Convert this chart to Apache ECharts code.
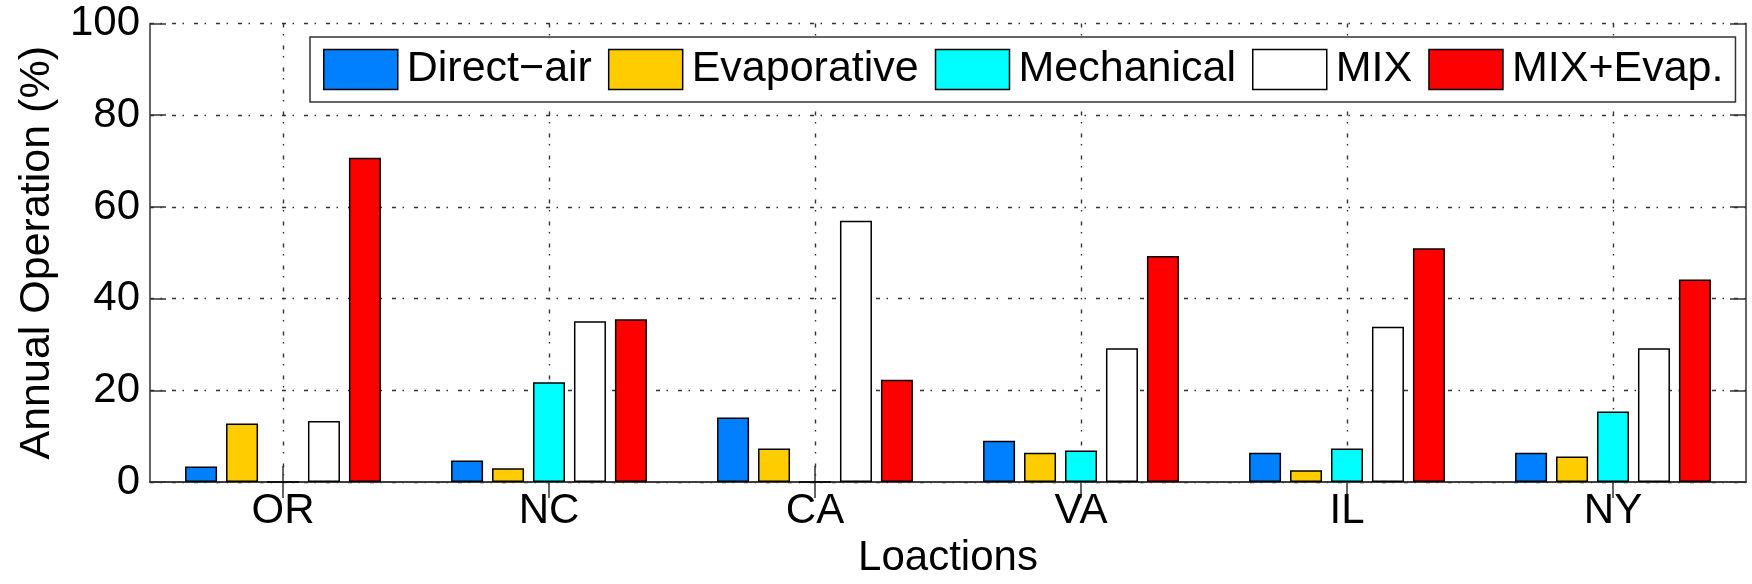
<!DOCTYPE html>
<html>
<head>
<meta charset="utf-8">
<script src="https://cdn.jsdelivr.net/npm/echarts@6/dist/echarts.min.js"></script>
<style>
  html, body { margin: 0; padding: 0; background: #fff; }
  #chart { width: 1752px; height: 584px; }
</style>
</head>
<body>
<div id="chart"></div>
<script>
// Annual share of operating hours per cooling mode, by location (%)
const locations   = ['OR', 'NC', 'CA', 'VA', 'IL', 'NY'];
const directAir   = [3.4, 4.7, 14.1, 9.0, 6.4, 6.4];
const evaporative = [12.8, 3.0, 7.3, 6.4, 2.6, 5.6];
const mechanical  = [0, 21.8, 0, 6.9, 7.3, 15.4];
const mix         = [13.3, 35.1, 57.0, 29.2, 33.9, 29.2];
const mixEvap     = [70.7, 35.5, 22.3, 49.3, 51.0, 44.2];
const yTicks      = [0, 20, 40, 60, 80, 100];

const seriesNames  = ['Direct\u2212air', 'Evaporative', 'Mechanical', 'MIX', 'MIX+Evap.'];
const seriesData   = [directAir, evaporative, mechanical, mix, mixEvap];
const seriesColors = ['#0080ff', '#ffcc00', '#00ffff', '#ffffff', '#ff0000'];

const FONT = '"Liberation Sans", Arial, Helvetica, sans-serif';
const AXIS_COLOR = '#333';
const TICK_LEN = 16;
// dash-dot grid pattern
const gridLine = { color: '#333', width: 1.4, type: [4, 6.5, 1.5, 10] };

const chart = echarts.init(document.getElementById('chart'), null, { renderer: 'canvas' });

chart.setOption({
  animation: false,
  backgroundColor: '#fff',
  textStyle: { fontFamily: FONT },
  grid: { left: 150, right: 6, top: 23.5, bottom: 95, containLabel: false },
  legend: {
    data: seriesNames,
    left: 310,
    top: 37,
    padding: [11, 12, 11, 13],
    borderColor: AXIS_COLOR,
    borderWidth: 1.5,
    backgroundColor: '#fff',
    itemWidth: 74,
    itemHeight: 40,
    itemGap: 16,
    icon: 'rect',
    itemStyle: { borderColor: '#000', borderWidth: 1.5 },
    textStyle: { fontFamily: FONT, fontSize: 43, color: '#000', padding: [0, 0, 0, 4] },
    z: 10
  },
  xAxis: [
    {
      type: 'category',
      data: locations,
      position: 'bottom',
      name: 'Loactions',
      nameLocation: 'middle',
      nameGap: 51,
      nameTextStyle: { fontFamily: FONT, fontSize: 42, color: '#000' },
      axisLine: { show: true, lineStyle: { color: AXIS_COLOR, width: 1.5 } },
      axisTick: { show: true, inside: true, length: TICK_LEN, alignWithLabel: true, lineStyle: { color: AXIS_COLOR, width: 1.5 } },
      axisLabel: { fontFamily: FONT, fontSize: 42, color: '#000', margin: 8 },
      splitLine: { show: true, alignWithLabel: true, lineStyle: gridLine }
    },
    {
      type: 'category',
      data: locations,
      position: 'top',
      axisLine: { show: true, lineStyle: { color: AXIS_COLOR, width: 1.5 } },
      axisTick: { show: true, inside: true, length: TICK_LEN, alignWithLabel: true, lineStyle: { color: AXIS_COLOR, width: 1.5 } },
      axisLabel: { show: false },
      splitLine: { show: false }
    }
  ],
  yAxis: [
    {
      type: 'value',
      min: yTicks[0],
      max: yTicks[yTicks.length - 1],
      interval: yTicks[1] - yTicks[0],
      position: 'left',
      name: 'Annual Operation (%)',
      nameLocation: 'middle',
      nameGap: 88,
      nameTextStyle: { fontFamily: FONT, fontSize: 43, color: '#000' },
      axisLine: { show: true, lineStyle: { color: AXIS_COLOR, width: 1.5 } },
      axisTick: { show: true, inside: true, length: TICK_LEN, lineStyle: { color: AXIS_COLOR, width: 1.5 } },
      axisLabel: { fontFamily: FONT, fontSize: 42, color: '#000', margin: 10 },
      splitLine: { show: true, lineStyle: gridLine }
    },
    {
      type: 'value',
      min: yTicks[0],
      max: yTicks[yTicks.length - 1],
      interval: yTicks[1] - yTicks[0],
      position: 'right',
      axisLine: { show: true, lineStyle: { color: AXIS_COLOR, width: 1.5 } },
      axisTick: { show: true, inside: true, length: TICK_LEN, lineStyle: { color: AXIS_COLOR, width: 1.5 } },
      axisLabel: { show: false },
      splitLine: { show: false }
    }
  ],
  series: seriesNames.map((name, i) => ({
    name: name,
    type: 'bar',
    xAxisIndex: 0,
    yAxisIndex: 0,
    data: seriesData[i],
    barWidth: 32,
    barGap: '28%',
    itemStyle: { color: seriesColors[i], borderColor: '#000', borderWidth: 1.5 },
    emphasis: { disabled: true }
  }))
});
</script>
</body>
</html>
